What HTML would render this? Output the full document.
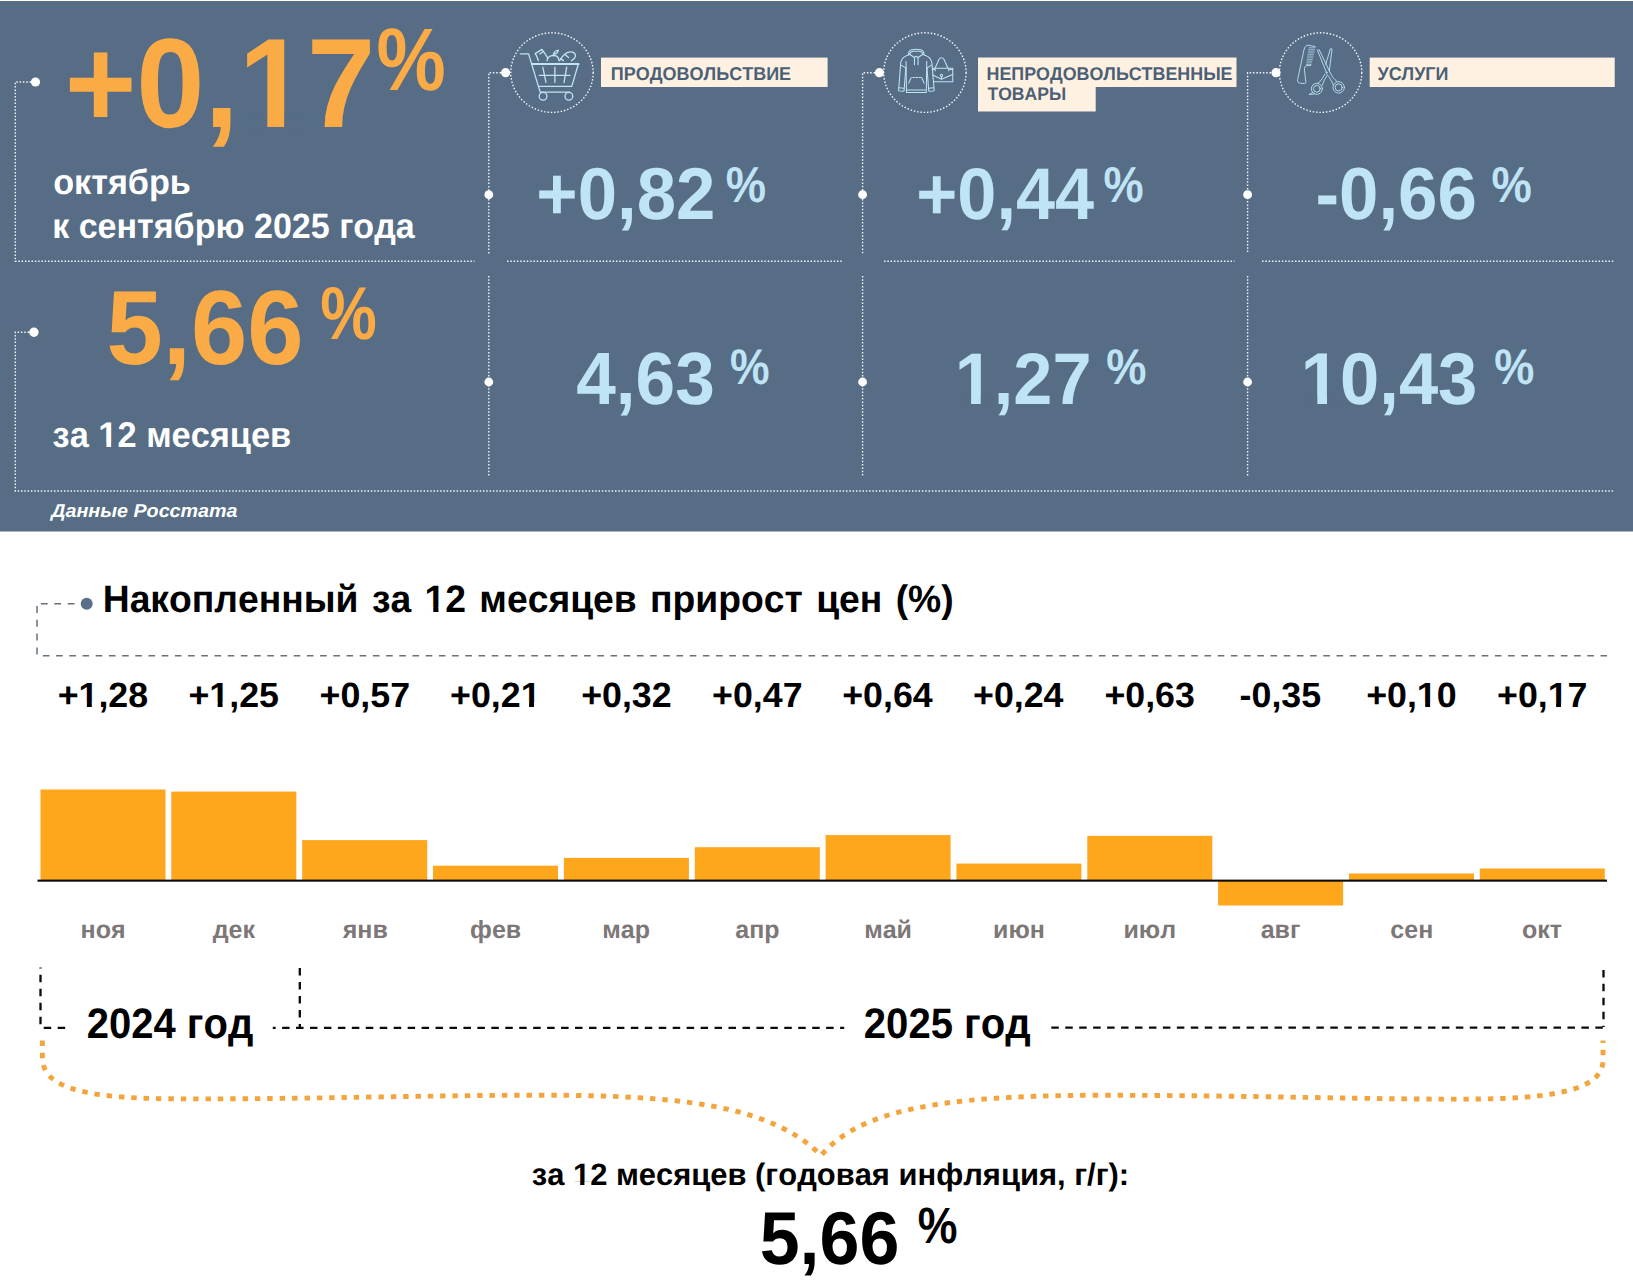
<!DOCTYPE html>
<html lang="ru">
<head>
<meta charset="utf-8">
<title>Инфляция: октябрь 2025</title>
<style>
html,body{margin:0;padding:0;background:#fff;}
body{width:1633px;height:1285px;overflow:hidden;position:relative;font-family:"Liberation Sans",sans-serif;}
svg{position:absolute;left:0;top:0;display:block;}
text{font-family:"Liberation Sans",sans-serif;font-weight:bold;text-rendering:geometricPrecision;font-kerning:none;}
.dot{fill:none;stroke:#f3f6fa;stroke-width:1.4;stroke-dasharray:1.5 1.8;}
.wd{fill:#fff;}
.or{fill:#fbab45;}
.bl{fill:#bfe4f5;}
.wh{fill:#fff;}
.lab{fill:#4b5f76;}
.bar{fill:#fea61c;}
.val{fill:#000;}
.mon{fill:#7d7777;}
.bk{fill:#000;}
.bd{fill:none;stroke:#0a0a0a;stroke-width:2.3;stroke-dasharray:7.5 6.45;}
.gd{fill:none;stroke:#66717c;stroke-width:1.5;}
.ic{fill:none;stroke:#bfe4f5;stroke-width:16;stroke-linecap:round;stroke-linejoin:round;}
.ic3{fill:none;stroke:#bfe4f5;stroke-width:24;stroke-linecap:round;stroke-linejoin:round;}
.ic4{fill:none;stroke:#bfe4f5;stroke-width:19;stroke-linecap:round;stroke-linejoin:round;}
.ic1{fill:none;stroke:#bfe4f5;stroke-width:27;stroke-linecap:round;stroke-linejoin:round;}
.ic2{fill:none;stroke:#bfe4f5;stroke-width:12.5;stroke-linecap:round;stroke-linejoin:round;}
</style>
</head>
<body>
<svg width="1633" height="1285" viewBox="0 0 1633 1285">

<rect x="0" y="1" width="1633" height="530.5" fill="#566d85"/>
<g class="dot">
<path d="M31 82H15.3V261.3H474.5"/>
<path d="M29 332.2H15.3V491H1614.5"/>
<path d="M501 72.7H488.8V254"/>
<path d="M875 72.7H862.6V254"/>
<path d="M1271 72.7H1247.6V254"/>
<path d="M488.8 276V476"/>
<path d="M862.6 276V476"/>
<path d="M1247.6 276V476"/>
<path d="M507 261.3H842"/>
<path d="M884 261.3H1234.5"/>
<path d="M1262 261.3H1614"/>
</g>
<g fill="none" stroke="#f3f6fa" stroke-width="1.4" stroke-dasharray="1.5 1.83">
<ellipse cx="552" cy="72.6" rx="41.2" ry="39.8"/>
<ellipse cx="924.9" cy="72.6" rx="41.2" ry="39.8"/>
<ellipse cx="1320.6" cy="72.6" rx="41.2" ry="39.8"/>
</g>
<g class="wd">
<circle cx="35.5" cy="82" r="4.6"/>
<circle cx="33.9" cy="332.2" r="4.7"/>
<circle cx="505.6" cy="72.7" r="4.6"/>
<circle cx="879.4" cy="72.7" r="4.6"/>
<circle cx="1276" cy="72.7" r="4.6"/>
<circle cx="488.8" cy="194.7" r="4.4"/>
<circle cx="862.6" cy="194.7" r="4.4"/>
<circle cx="1247.6" cy="194.7" r="4.4"/>
<circle cx="488.8" cy="382" r="4.4"/>
<circle cx="862.6" cy="382" r="4.4"/>
<circle cx="1247.6" cy="382" r="4.4"/>
</g>
<g class="ic1" transform="translate(517 42) scale(0.04825)">
<path d="M68 245H240L480 1040H1090"/>
<path d="M312 457H1278" stroke-width="40"/>
<path d="M1270 462L1135 920H447"/>
<path d="M462 690H1100M535 522L600 835M785 522V835M1030 522L975 835"/>
<circle cx="540" cy="1125" r="80"/><circle cx="1075" cy="1125" r="80"/>
<path d="M442 385L400 275L376 240L516 152L548 196L472 248M548 196L640 335"/>
<path d="M622 388C625 320 690 270 760 285C820 275 865 320 872 385"/>
<path d="M752 262C765 215 805 180 856 170C850 215 815 250 760 258Z"/>
<path d="M882 388L945 300C990 225 1090 185 1165 215C1215 240 1225 290 1195 330L1130 390"/>
<path d="M1000 265L1070 322M905 345L962 386"/>
</g>
<g class="ic3" transform="translate(895 45) scale(0.04279)">
<path d="M312 232C315 170 335 125 385 110C455 95 535 95 605 110C655 125 678 170 682 232"/>
<path d="M345 205C360 165 385 150 420 146H570C610 150 635 165 652 205"/>
<path d="M330 210L455 292M665 210L538 292M455 292L495 262L538 292"/>
<path d="M312 232C230 255 160 300 135 400L85 1045C83 1065 90 1075 105 1076L195 1080C207 1080 212 1072 213 1060L252 520"/>
<path d="M682 232C765 255 835 300 860 400L915 1045C917 1065 910 1075 895 1076L805 1080C793 1080 788 1072 787 1060L748 520"/>
<path d="M140 470L250 535M858 470L750 535"/>
<path d="M95 1000L208 1010M905 1000L792 1010"/>
<path d="M258 380L268 1112H732L742 380M268 1052H732"/>
<path d="M455 292V462M538 292V462"/>
<path d="M418 760H600" stroke-dasharray="42 30"/><path d="M382 762C360 800 340 845 322 892M620 762C640 800 662 845 680 892"/>
<path d="M880 545H1350V860H905"/>
<path d="M935 545L1030 335C1050 285 1120 285 1142 335L1240 545"/>
<path d="M885 700L1085 802L1345 690"/>
<circle cx="1085" cy="712" r="26"/><path d="M1085 738V790"/>
<path d="M885 572H940V600M1345 572H1255V600"/>
</g>
<g class="ic4" transform="translate(1292 40) scale(0.04670)">
<path d="M495 140L345 112C300 108 270 150 255 215L120 850C112 895 135 922 175 925L270 930C290 930 298 918 296 895L266 640C262 590 280 552 320 547H400"/>
<path d="M362 165H495" stroke-width="13"/>
<path d="M356 201H486" stroke-width="13"/>
<path d="M351 237H478" stroke-width="13"/>
<path d="M346 273H470" stroke-width="13"/>
<path d="M340 309H461" stroke-width="13"/>
<path d="M334 345H452" stroke-width="13"/>
<path d="M329 381H444" stroke-width="13"/>
<path d="M324 417H436" stroke-width="13"/>
<path d="M318 453H427" stroke-width="13"/>
<path d="M312 489H418" stroke-width="13"/>
<path d="M307 525H410" stroke-width="13"/>
<path d="M548 228C545 212 565 200 582 210L795 650M548 228L735 690"/>
<path d="M795 650C840 760 900 850 965 885M745 735C800 790 850 880 885 960"/>
<circle cx="1000" cy="1015" r="122"/><circle cx="1000" cy="1015" r="76"/>
<path d="M820 195C825 178 855 180 857 200L800 655M820 195L722 520"/>
<path d="M700 735C650 830 600 900 560 925M745 770C700 840 670 900 650 965"/>
<circle cx="532" cy="1045" r="118"/><circle cx="532" cy="1045" r="72"/>
<path d="M445 1120C420 1140 395 1155 365 1165C400 1175 440 1165 480 1150"/>
<circle cx="738" cy="700" r="13"/>
</g>
<text class="or" transform="translate(64.65 127.30) scale(1 1.0350)" font-size="122.73">+0,17</text>
<rect x="245.61" y="113.74" width="21.71" height="14.36" fill="#566d85"/>
<rect x="284.16" y="113.74" width="20.16" height="14.36" fill="#566d85"/>
<text class="or" transform="translate(376.46 89.71) scale(1 1.1397)" font-size="77.81">%</text>
<text class="wh" transform="translate(53.16 194.00) scale(1 1.0300)" font-size="34.20">октябрь</text>
<text class="wh" transform="translate(52.14 238.00) scale(1 1.0300)" font-size="34.05">к сентябрю 2025 года</text>
<text class="or" transform="translate(106.59 364.40) scale(1 1.0430)" font-size="101.20">5,66</text>
<text class="or" transform="translate(320.32 338.92) scale(1 1.1752)" font-size="63.61">%</text>
<text class="wh" transform="translate(52.61 446.90) scale(1 1.0370)" font-size="34.39">за 12 месяцев</text>
<rect x="99.75" y="442.66" width="6.66" height="5.04" fill="#566d85"/>
<rect x="111.13" y="442.66" width="6.22" height="5.04" fill="#566d85"/>
<text class="wh" transform="translate(51.30 516.50) scale(1 0.9500)" font-size="19.71" font-style="italic">Данные Росстата</text>
<rect x="601" y="57.6" width="226.6" height="29.4" fill="#fff1e2"/>
<text class="lab" transform="translate(610.80 80.10) scale(1 1.0300)" font-size="18.00">ПРОДОВОЛЬСТВИЕ</text>
<path d="M978 57.6H1236.5V87H1095.7V111.5H978Z" fill="#fff1e2"/>
<text class="lab" transform="translate(986.50 80.10) scale(1 1.0300)" font-size="17.87">НЕПРОДОВОЛЬСТВЕННЫЕ</text>
<text class="lab" transform="translate(987.50 99.80) scale(1 1.0300)" font-size="17.56">ТОВАРЫ</text>
<rect x="1369.7" y="57.6" width="245" height="29.4" fill="#fff1e2"/>
<text class="lab" transform="translate(1377.49 80.10) scale(1 1.0300)" font-size="17.96">УСЛУГИ</text>
<text class="bl" transform="translate(536.33 218.80) scale(1 1.0400)" font-size="70.74">+0,82</text>
<text class="bl" transform="translate(725.87 202.01) scale(1 1.1125)" font-size="45.35">%</text>
<text class="bl" transform="translate(916.35 218.80) scale(1 1.0400)" font-size="70.24">+0,44</text>
<text class="bl" transform="translate(1103.48 202.01) scale(1 1.1184)" font-size="45.11">%</text>
<text class="bl" transform="translate(1315.43 218.80) scale(1 1.0400)" font-size="70.82">-0,66</text>
<text class="bl" transform="translate(1491.47 202.01) scale(1 1.1125)" font-size="45.35">%</text>
<text class="bl" transform="translate(576.22 403.80) scale(1 1.0400)" font-size="71.19">4,63</text>
<text class="bl" transform="translate(729.89 383.81) scale(1 1.1238)" font-size="44.52">%</text>
<text class="bl" transform="translate(954.67 403.80) scale(1 1.0400)" font-size="70.30">1,27</text>
<rect x="958.30" y="395.74" width="12.78" height="8.86" fill="#566d85"/>
<rect x="980.72" y="395.74" width="11.89" height="8.86" fill="#566d85"/>
<text class="bl" transform="translate(1106.37 383.81) scale(1 1.1060)" font-size="45.23">%</text>
<text class="bl" transform="translate(1300.86 403.80) scale(1 1.0400)" font-size="70.53">10,43</text>
<rect x="1304.50" y="395.71" width="12.82" height="8.89" fill="#566d85"/>
<rect x="1327.00" y="395.71" width="11.92" height="8.89" fill="#566d85"/>
<text class="bl" transform="translate(1494.28 383.81) scale(1 1.1089)" font-size="45.11">%</text>
<path class="gd" d="M40.9 603.8H74.5" stroke-dasharray="6.8 6.6"/>
<path class="gd" d="M37 606V655" stroke-dasharray="7 6.8"/>
<path class="gd" d="M42.9 655.7H1607" stroke-dasharray="6.6 6.6"/>
<circle cx="86.7" cy="603.8" r="6" fill="#5a7089"/>
<text class="bk" transform="translate(102.71 611.80) scale(1 1.0250)" font-size="37.29" word-spacing="3.0">Накопленный за 12 месяцев прирост цен (%)</text>
<rect x="426.12" y="607.30" width="7.15" height="5.30" fill="#fff"/>
<rect x="438.39" y="607.30" width="6.68" height="5.30" fill="#fff"/>
<text class="val" transform="translate(57.65 706.70) scale(1 0.9800)" font-size="35.77">+1,28</text>
<rect x="79.99" y="702.62" width="6.90" height="4.78" fill="#fff"/>
<rect x="91.79" y="702.62" width="6.44" height="4.78" fill="#fff"/>
<text class="val" transform="translate(188.42 706.70) scale(1 0.9800)" font-size="35.77">+1,25</text>
<rect x="210.77" y="702.62" width="6.90" height="4.78" fill="#fff"/>
<rect x="222.57" y="702.62" width="6.44" height="4.78" fill="#fff"/>
<text class="val" transform="translate(319.54 706.70) scale(1 0.9800)" font-size="35.77">+0,57</text>
<text class="val" transform="translate(450.08 706.70) scale(1 0.9800)" font-size="35.77">+0,21</text>
<rect x="522.15" y="702.62" width="6.90" height="4.78" fill="#fff"/>
<rect x="533.95" y="702.62" width="6.44" height="4.78" fill="#fff"/>
<text class="val" transform="translate(581.13 706.70) scale(1 0.9800)" font-size="35.77">+0,32</text>
<text class="val" transform="translate(712.03 706.70) scale(1 0.9800)" font-size="35.77">+0,47</text>
<text class="val" transform="translate(842.17 706.70) scale(1 0.9800)" font-size="35.77">+0,64</text>
<text class="val" transform="translate(973.00 706.70) scale(1 0.9800)" font-size="35.77">+0,24</text>
<text class="val" transform="translate(1104.38 706.70) scale(1 0.9800)" font-size="35.77">+0,63</text>
<text class="val" transform="translate(1239.60 706.70) scale(1 0.9800)" font-size="35.77">-0,35</text>
<text class="val" transform="translate(1366.13 706.70) scale(1 0.9800)" font-size="35.77">+0,10</text>
<rect x="1418.30" y="702.62" width="6.90" height="4.78" fill="#fff"/>
<rect x="1430.11" y="702.62" width="6.44" height="4.78" fill="#fff"/>
<text class="val" transform="translate(1497.01 706.70) scale(1 0.9800)" font-size="35.77">+0,17</text>
<rect x="1549.18" y="702.62" width="6.90" height="4.78" fill="#fff"/>
<rect x="1560.99" y="702.62" width="6.44" height="4.78" fill="#fff"/>
<g class="bar">
<rect x="40.5" y="789.5" width="125" height="91.1"/>
<rect x="171.3" y="791.6" width="125" height="89.0"/>
<rect x="302.2" y="840.1" width="125" height="40.6"/>
<rect x="433.0" y="865.7" width="125" height="15.0"/>
<rect x="563.9" y="857.9" width="125" height="22.8"/>
<rect x="694.8" y="847.2" width="125" height="33.5"/>
<rect x="825.6" y="835.1" width="125" height="45.6"/>
<rect x="956.4" y="863.6" width="125" height="17.1"/>
<rect x="1087.3" y="835.8" width="125" height="44.9"/>
<rect x="1218.1" y="880.6" width="125" height="24.9"/>
<rect x="1349.0" y="873.5" width="125" height="7.1"/>
<rect x="1479.8" y="868.5" width="125" height="12.1"/>
</g>
<rect x="37.5" y="879.6" width="1569.5" height="2.1" fill="#0c0c0c"/>
<text class="mon" transform="translate(80.62 937.60) scale(1 1.0000)" font-size="25.00">ноя</text>
<text class="mon" transform="translate(212.70 937.60) scale(1 1.0000)" font-size="25.00">дек</text>
<text class="mon" transform="translate(342.73 937.60) scale(1 1.0000)" font-size="25.00">янв</text>
<text class="mon" transform="translate(470.00 937.60) scale(1 1.0000)" font-size="25.00">фев</text>
<text class="mon" transform="translate(602.23 937.60) scale(1 1.0000)" font-size="25.00">мар</text>
<text class="mon" transform="translate(735.26 937.60) scale(1 1.0000)" font-size="25.00">апр</text>
<text class="mon" transform="translate(864.19 937.60) scale(1 1.0000)" font-size="25.00">май</text>
<text class="mon" transform="translate(993.01 937.60) scale(1 1.0000)" font-size="25.00">июн</text>
<text class="mon" transform="translate(1123.45 937.60) scale(1 1.0000)" font-size="25.00">июл</text>
<text class="mon" transform="translate(1260.70 937.60) scale(1 1.0000)" font-size="25.00">авг</text>
<text class="mon" transform="translate(1390.33 937.60) scale(1 1.0000)" font-size="25.00">сен</text>
<text class="mon" transform="translate(1522.08 937.60) scale(1 1.0000)" font-size="25.00">окт</text>
<path class="bd" d="M40.5 967.6V1025" stroke-dashoffset="6.7" stroke-dasharray="7.8 6.3"/>
<path class="bd" d="M43.7 1027.8H66" stroke-dasharray="7.5 6.8"/>
<path class="bd" d="M272.8 1027.9H844.2" stroke-dashoffset="4.66"/>
<path class="bd" d="M299.8 968.1V1027" stroke-dasharray="7.8 6"/>
<path class="bd" d="M1051.3 1027.6H1604.7" stroke-dasharray="7.3 6.7"/>
<path class="bd" d="M1603.5 969.9V1027" stroke-dasharray="7.5 6.5"/>
<text class="bk" transform="translate(86.81 1038.20) scale(1 1.0650)" font-size="39.99">2024 год</text>
<text class="bk" transform="translate(863.81 1038.40) scale(1 1.0650)" font-size="40.08">2025 год</text>
<path d="M42.4 1040.5V1058C43 1085 75 1098 170 1098.8C300 1099.5 420 1095.2 540 1095.2C680 1095.2 770 1105 821.1 1155.3C860 1110 940 1096 1090 1095.3C1250 1095 1380 1100 1480 1099C1570 1098 1603 1085 1603 1060V1040.5" fill="none" stroke="#f3a43c" stroke-width="4.9" stroke-dasharray="5.4 6.95"/>
<text class="bk" transform="translate(531.80 1185.40) scale(1 1.0000)" font-size="30.93">за 12 месяцев (годовая инфляция, г/г):</text>
<rect x="574.12" y="1181.64" width="6.07" height="4.56" fill="#fff"/>
<rect x="584.43" y="1181.64" width="5.68" height="4.56" fill="#fff"/>
<text class="bk" transform="translate(759.69 1264.00) scale(1 1.0430)" font-size="71.78">5,66</text>
<text class="bk" transform="translate(917.79 1242.50) scale(1 1.1431)" font-size="44.64">%</text>
</svg>
</body>
</html>
